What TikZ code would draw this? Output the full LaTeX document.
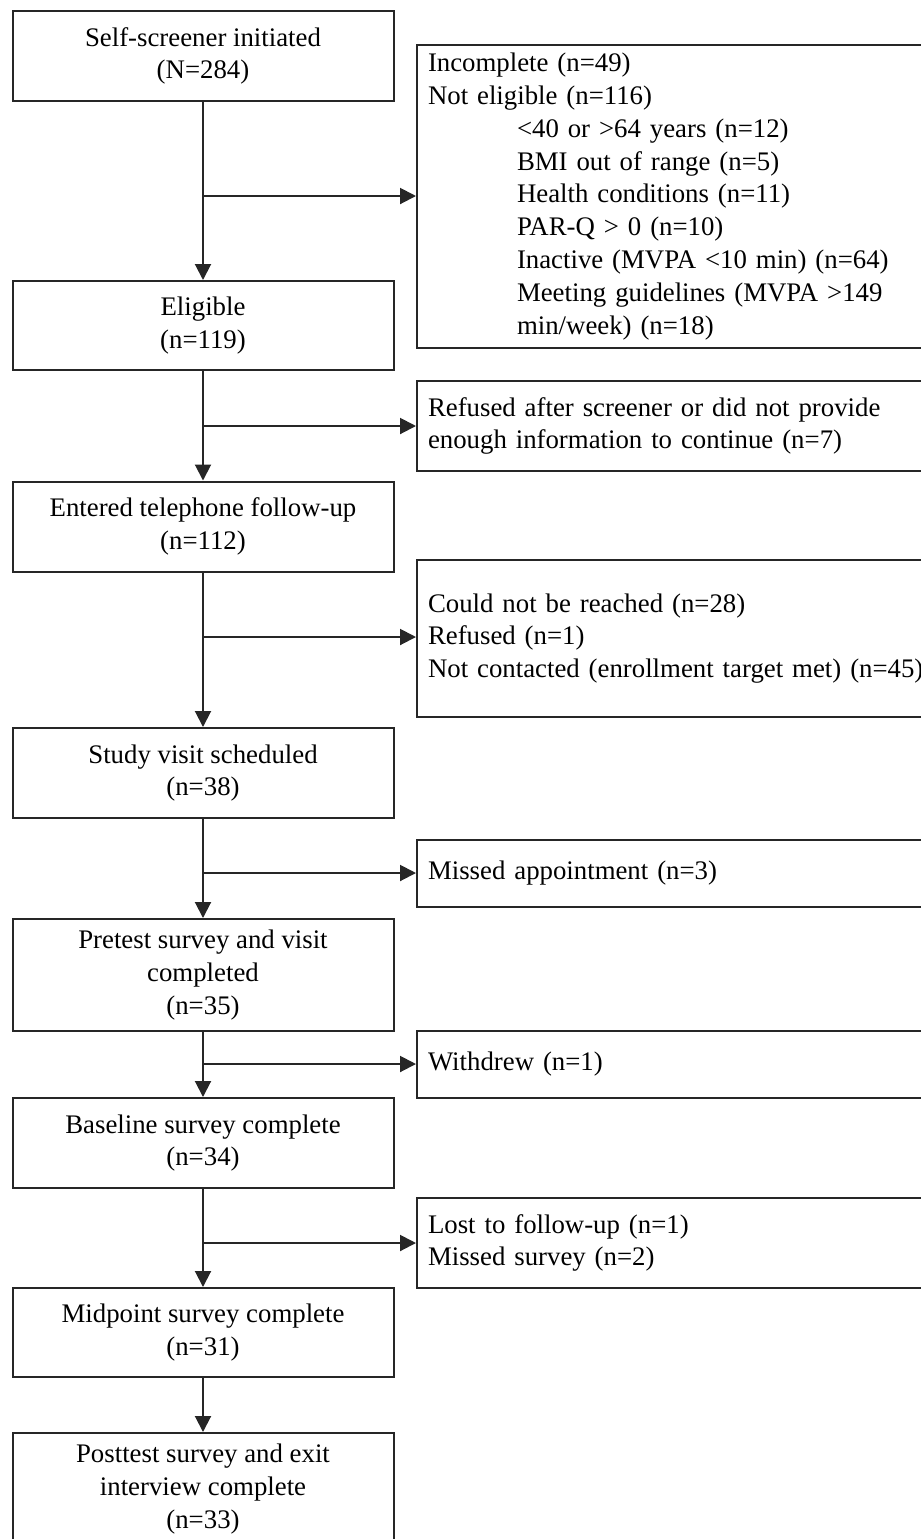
\documentclass[tikz,border=0pt]{standalone}
\usepackage{fontspec}
\setmainfont{Liberation Serif}
\usetikzlibrary{arrows.meta}
\newcommand{\fsz}{\fontsize{13.4pt}{16.4pt}\selectfont}
\newcommand{\ind}{\hspace*{44.5pt}}
\begin{document}
\begin{tikzpicture}[x=0.5pt,y=-0.5pt,
  box/.style={draw=black!85, line width=1pt, minimum width=190.5pt, align=center, font=\fsz, inner sep=0pt},
  side/.style={draw=black!85, line width=1pt, anchor=west, text width=260pt, align=left, inner xsep=5.5pt, inner ysep=0pt, font=\fsz},
  arr/.style={draw=black!85, line width=1pt, -{Triangle[length=8pt,width=8pt]}}]
\useasboundingbox (0,0) rectangle (921,1539);
\clip (0,0) rectangle (921,1539);
% main column
\node[box, minimum height=45pt]   (b1) at (203,56)    {Self-screener initiated\\(N=284)};
\node[box, minimum height=44.5pt] (b2) at (203,325.5) {Eligible\\(n=119)};
\node[box, minimum height=45pt]   (b3) at (203,526.5) {Entered telephone follow-up\\(n=112)};
\node[box, minimum height=45pt]   (b4) at (203,773)   {Study visit scheduled\\(n=38)};
\node[box, minimum height=56pt]   (b5) at (203,975)   {Pretest survey and visit\\completed\\(n=35)};
\node[box, minimum height=45pt]   (b6) at (203,1143)  {Baseline survey complete\\(n=34)};
\node[box, minimum height=44.5pt] (b7) at (203,1332.5){Midpoint survey complete\\(n=31)};
\node[box, minimum height=56pt]   (b8) at (203,1489)  {Posttest survey and exit\\interview complete\\(n=33)};
% side boxes
\node[side, minimum height=151.5pt] (r1) at (416,196.5) {Incomplete (n=49)\\Not eligible (n=116)\\
  \ind<40 or >64 years (n=12)\\\ind BMI out of range (n=5)\\\ind Health conditions (n=11)\\
  \ind PAR-Q > 0 (n=10)\\\ind Inactive (MVPA <10 min) (n=64)\\\ind Meeting guidelines (MVPA >149\\
  \ind min/week) (n=18)};
\node[side, minimum height=45pt]   (r2) at (416,426)   {Refused after screener or did not provide\\enough information to continue (n=7)};
\node[side, minimum height=78.5pt] (r3) at (416,638.5) {Could not be reached (n=28)\\Refused (n=1)\\Not contacted (enrollment target met) (n=45)};
\node[side, minimum height=33.5pt] (r4) at (416,873.5) {Missed appointment (n=3)};
\node[side, minimum height=33.5pt] (r5) at (416,1064.5){Withdrew (n=1)};
\node[side, minimum height=45pt]   (r6) at (416,1243)  {Lost to follow-up (n=1)\\Missed survey (n=2)};
% junctions
\coordinate (j1) at (203,196);
\coordinate (j2) at (203,426);
\coordinate (j3) at (203,637);
\coordinate (j4) at (203,873);
\coordinate (j5) at (203,1064);
\coordinate (j6) at (203,1243);
% connectors
\draw[arr] (b1) -- (b2);
\draw[arr] (b2) -- (b3);
\draw[arr] (b3) -- (b4);
\draw[arr] (b4) -- (b5);
\draw[arr] (b5) -- (b6);
\draw[arr] (b6) -- (b7);
\draw[arr] (b7) -- (b8);
\draw[arr] (j1) -- (j1 -| r1.west);
\draw[arr] (j2) -- (j2 -| r2.west);
\draw[arr] (j3) -- (j3 -| r3.west);
\draw[arr] (j4) -- (j4 -| r4.west);
\draw[arr] (j5) -- (j5 -| r5.west);
\draw[arr] (j6) -- (j6 -| r6.west);
\end{tikzpicture}
\end{document}
